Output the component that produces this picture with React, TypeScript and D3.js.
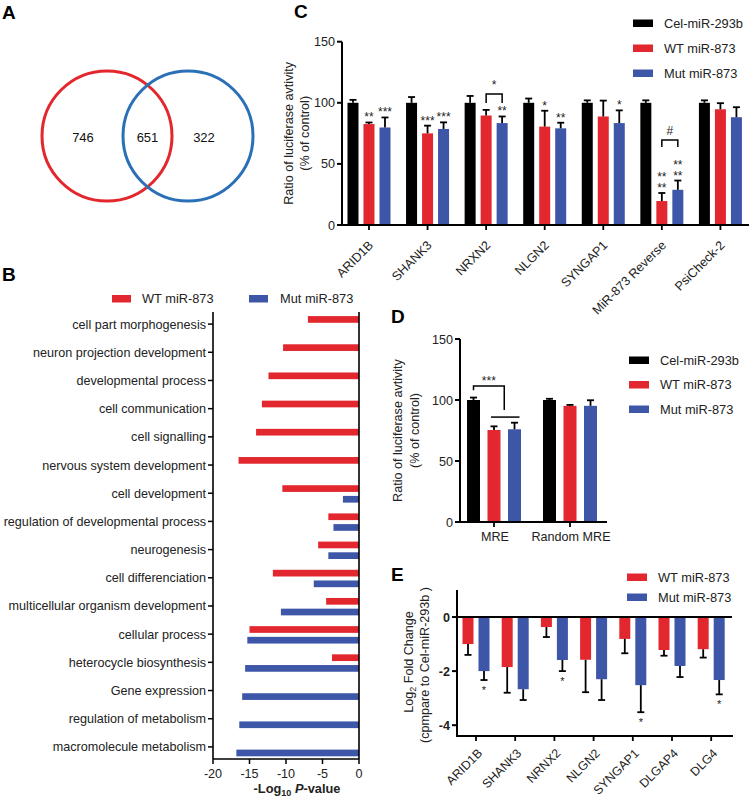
import React from "react";
import * as d3 from "d3";

const FONT = "'Liberation Sans', Arial, Helvetica, sans-serif";
const RED = "#e2282e";
const BLUE = "#3e56a7";
const BLACK = "#000000";
const VENN_BLUE = "#2a70b6";

// ---------- Panel A: Venn ----------
const vennCounts = [746, 651, 322]; // WT only, shared, Mut only

// ---------- Panel B: GO terms ----------
const goTerms = [
  "cell part morphogenesis",
  "neuron projection development",
  "developmental process",
  "cell communication",
  "cell signalling",
  "nervous system development",
  "cell development",
  "regulation of developmental process",
  "neurogenesis",
  "cell differenciation",
  "multicellular organism development",
  "cellular process",
  "heterocycle biosynthesis",
  "Gene expression",
  "regulation of metabolism",
  "macromolecule metabolism",
];
const goWT = [-7.0, -10.4, -12.4, -13.3, -14.1, -16.5, -10.5, -4.2, -5.6, -11.8, -4.5, -15.0, -3.7, null, null, null];
const goMut = [null, null, null, null, null, null, -2.2, -3.5, -4.2, -6.2, -10.7, -15.3, -15.6, -16.0, -16.4, -16.8];
const goTicks = [-20, -15, -10, -5, 0];

// ---------- Panel C: luciferase per gene ----------
const seriesNames = ["Cel-miR-293b", "WT miR-873", "Mut miR-873"];
const cGenes = ["ARID1B", "SHANK3", "NRXN2", "NLGN2", "SYNGAP1", "MiR-873 Reverse", "PsiCheck-2"];
const cCel = [100, 100, 100, 100, 100, 100, 100];
const cCelErr = [2.4, 4.7, 5.6, 3.5, 2, 2, 2];
const cWT = [82.6, 75, 89.6, 80.5, 88.8, 19.6, 94.7];
const cWTErr = [1.3, 6.3, 4.6, 13, 13, 6.6, 5];
const cMut = [79.8, 78.6, 83.4, 79.1, 83.4, 28.8, 88.2];
const cMutErr = [8.2, 5.4, 5.4, 4.6, 10.4, 7.6, 8.2];
const cWTStars = ["**", "***", "", "*", "", "**|**", ""];
const cMutStars = ["***", "***", "**", "**", "*", "**|**", ""];
const cBracketGenes = ["NRXN2", "MiR-873 Reverse"];
const cBracketTop = [107.2, 69.6];
const cBracketLeg = [99.8, 63.8];
const cBracketLabel = ["*", "#"];
const cTicks = [0, 50, 100, 150];

// ---------- Panel D: MRE ----------
const dGroups = ["MRE", "Random MRE"];
const dCel = [100, 100];
const dCelErr = [2, 1];
const dWT = [75.4, 95.2];
const dWTErr = [3, 0.8];
const dMut = [76, 95.2];
const dMutErr = [5.4, 4.6];
const dTicks = [0, 50, 100, 150];

// ---------- Panel E: qPCR ----------
const eGenes = ["ARID1B", "SHANK3", "NRNX2", "NLGN2", "SYNGAP1", "DLGAP4", "DLG4"];
const eWT = [-1.0, -1.85, -0.37, -1.58, -0.81, -1.22, -1.19];
const eWTErr = [0.4, 0.95, 0.37, 1.2, 0.53, 0.21, 0.31];
const eMut = [-2.0, -2.67, -1.59, -2.3, -2.52, -1.81, -2.33];
const eMutErr = [0.33, 0.4, 0.41, 0.77, 1.0, 0.41, 0.53];
const eMutStars = ["*", "", "*", "", "*", "", "*"];
const eTicks = [0, -2, -4];

const colors = [BLACK, RED, BLUE];

function PanelLetter({ x, y, t }: { x: number; y: number; t: string }) {
  return (
    <text x={x} y={y} fontSize={19} fontWeight="bold" fontFamily={FONT}>
      {t}
    </text>
  );
}

function Legend({ x, y, gap, names, cols }: { x: number; y: number; gap: number; names: string[]; cols: string[] }) {
  return (
    <g>
      {names.map((n, i) => (
        <g key={n}>
          <rect x={x} y={y + i * gap - 3.5} width={20} height={7.5} fill={cols[i]} />
          <text x={x + 31} y={y + i * gap + 4.5} fontSize={12.8} fontFamily={FONT} fill="#222">
            {n}
          </text>
        </g>
      ))}
    </g>
  );
}

function PanelA() {
  const cx = d3.scaleLinear().domain([0, 1]).range([107, 188]);
  const cy = 136;
  const r = 65;
  const textX = [cx(0) - 24, (cx(0) + cx(1)) / 2, cx(1) + 16];
  return (
    <g>
      <PanelLetter x={2} y={19} t="A" />
      <circle cx={cx(0)} cy={cy} r={r} fill="none" stroke={RED} strokeWidth={3} />
      <circle cx={cx(1)} cy={cy} r={r} fill="none" stroke={VENN_BLUE} strokeWidth={3} />
      {vennCounts.map((v, i) => (
        <text key={i} x={textX[i]} y={cy + 6} fontSize={13} textAnchor="middle" fontFamily={FONT} fill="#111">
          {v}
        </text>
      ))}
    </g>
  );
}

function PanelB() {
  const x = d3.scaleLinear().domain([-20, 0]).range([213, 359]);
  const y = d3.scaleBand().domain(goTerms).range([310, 761]);
  const inner = d3.scaleBand().domain(["WT", "Mut"]).range([-8, 9.4]).paddingInner(0.374);
  const top = 312;
  const bottom = 759;
  return (
    <g fontFamily={FONT}>
      <PanelLetter x={2} y={281} t="B" />
      <rect x={112} y={295} width={19} height={7.5} fill={RED} />
      <text x={142} y={303} fontSize={12.8} fill="#222">WT miR-873</text>
      <rect x={249} y={295} width={19} height={7.5} fill={BLUE} />
      <text x={280} y={303} fontSize={12.8} fill="#222">Mut miR-873</text>
      {goTerms.map((t, i) => {
        const cy = (y(t) as number) + y.bandwidth() / 2;
        const w = goWT[i];
        const m = goMut[i];
        return (
          <g key={t}>
            {w !== null && (
              <rect x={x(w)} y={cy + (inner("WT") as number)} width={x(0) - x(w)} height={inner.bandwidth()} fill={RED} />
            )}
            {m !== null && (
              <rect x={x(m)} y={cy + (inner("Mut") as number)} width={x(0) - x(m)} height={inner.bandwidth()} fill={BLUE} />
            )}
            <line x1={x(-20) - 5} x2={x(-20)} y1={cy} y2={cy} stroke="#000" strokeWidth={1.5} />
            <text x={x(-20) - 7} y={cy + 4.5} fontSize={12.6} textAnchor="end" fill="#222">
              {t}
            </text>
          </g>
        );
      })}
      <line x1={x(-20)} x2={x(-20)} y1={top} y2={bottom} stroke="#000" strokeWidth={1.6} />
      <line x1={x(0)} x2={x(0)} y1={top} y2={bottom} stroke="#000" strokeWidth={1.6} />
      <line x1={x(-20)} x2={x(0)} y1={bottom} y2={bottom} stroke="#000" strokeWidth={1.6} />
      {goTicks.map((t) => (
        <g key={t}>
          <line x1={x(t)} x2={x(t)} y1={bottom} y2={bottom + 5} stroke="#000" strokeWidth={1.5} />
          <text x={x(t)} y={778} fontSize={12.6} textAnchor="middle" fill="#222">
            {t}
          </text>
        </g>
      ))}
      <text x={297} y={793} fontSize={12.8} fontWeight="bold" textAnchor="middle" fill="#222">
        -Log<tspan fontSize={9} dy={3}>10</tspan>
        <tspan dy={-3}> </tspan>
        <tspan fontStyle="italic">P</tspan>-value
      </text>
    </g>
  );
}

function ErrUp({ x, y1, y2 }: { x: number; y1: number; y2: number }) {
  return (
    <g stroke="#000" strokeWidth={1.8}>
      <line x1={x} x2={x} y1={y1} y2={y2} />
      <line x1={x - 3.5} x2={x + 3.5} y1={y2} y2={y2} />
    </g>
  );
}

function Stars({ x, y, s, size = 12 }: { x: number; y: number; s: string; size?: number }) {
  if (!s) return null;
  const rows = s.split("|");
  const lead = 11;
  return (
    <text x={x} y={y - (rows.length - 1) * lead} fontSize={size} textAnchor="middle" fontFamily={FONT} fill="#222">
      {rows.map((r, i) => (
        <tspan key={i} x={x} dy={i === 0 ? 0 : lead}>
          {r}
        </tspan>
      ))}
    </text>
  );
}

function PanelC() {
  const x0 = d3.scaleBand().domain(cGenes).range([339.7, 749.7]);
  const x1 = d3.scaleBand().domain(seriesNames).range([-21.5, 21.5]).paddingInner(0.3125);
  const y = d3.scaleLinear().domain([0, 150]).range([225, 41.7]);
  const axX = 342;
  const vals = [cCel, cWT, cMut];
  const errs = [cCelErr, cWTErr, cMutErr];
  const stars = [null, cWTStars, cMutStars];
  const center = (g: string) => (x0(g) as number) + x0.step() / 2;
  const bx = (g: string, s: string) => center(g) + (x1(s) as number);
  return (
    <g fontFamily={FONT}>
      <PanelLetter x={294} y={18} t="C" />
      {cGenes.map((g, gi) => (
        <g key={g}>
          {seriesNames.map((s, si) => {
            const v = vals[si][gi];
            const e = errs[si][gi];
            const xc = bx(g, s) + x1.bandwidth() / 2;
            const st = stars[si];
            return (
              <g key={s}>
                <rect x={bx(g, s)} y={y(v)} width={x1.bandwidth()} height={y(0) - y(v)} fill={colors[si]} />
                <ErrUp x={xc} y1={y(v)} y2={y(v + e)} />
                {st && <Stars x={xc} y={y(v + e) - 1} s={st[gi]} />}
              </g>
            );
          })}
          <line x1={center(g)} x2={center(g)} y1={y(0)} y2={y(0) + 5} stroke="#000" strokeWidth={1.8} />
          <text
            transform={`translate(${center(g) + 5},${y(0) + 21}) rotate(-45)`}
            textAnchor="end"
            fontSize={12.6}
            fill="#222"
          >
            {g}
          </text>
        </g>
      ))}
      {cBracketGenes.map((g, i) => {
        const xa = bx(g, seriesNames[1]) + x1.bandwidth() / 2;
        const xb = bx(g, seriesNames[2]) + x1.bandwidth() / 2;
        return (
          <g key={g}>
            <path
              d={`M${xa},${y(cBracketLeg[i])}V${y(cBracketTop[i])}H${xb}V${y(cBracketLeg[i])}`}
              fill="none"
              stroke="#000"
              strokeWidth={1.5}
            />
            <text x={(xa + xb) / 2} y={y(cBracketTop[i]) - 5} fontSize={12} textAnchor="middle" fill="#222">
              {cBracketLabel[i]}
            </text>
          </g>
        );
      })}
      <line x1={axX} x2={axX} y1={y(150)} y2={y(0)} stroke="#000" strokeWidth={2} />
      <line x1={axX - 1} x2={749} y1={y(0)} y2={y(0)} stroke="#000" strokeWidth={2} />
      {cTicks.map((t) => (
        <g key={t}>
          <line x1={axX - 5} x2={axX} y1={y(t)} y2={y(t)} stroke="#000" strokeWidth={2} />
          <text x={axX - 7} y={y(t) + 4.5} fontSize={12.6} textAnchor="end" fill="#222">
            {t}
          </text>
        </g>
      ))}
      <text transform={`translate(293,${(y(0) + y(150)) / 2}) rotate(-90)`} textAnchor="middle" fontSize={12.6} fill="#222">
        Ratio of luciferase avtivity
      </text>
      <text transform={`translate(309,${(y(0) + y(150)) / 2}) rotate(-90)`} textAnchor="middle" fontSize={12.6} fill="#222">
        (% of control)
      </text>
      <Legend x={633} y={23} gap={25} names={seriesNames} cols={colors} />
    </g>
  );
}

function PanelD() {
  const x0 = d3.scaleBand().domain(dGroups).range([456, 608]);
  const x1 = d3.scaleBand().domain(seriesNames).range([-27, 27]).paddingInner(0.366);
  const y = d3.scaleLinear().domain([0, 150]).range([522, 339]);
  const axX = 460;
  const vals = [dCel, dWT, dMut];
  const errs = [dCelErr, dWTErr, dMutErr];
  const center = (g: string) => (x0(g) as number) + x0.step() / 2;
  const bx = (g: string, s: string) => center(g) + (x1(s) as number);
  const g0 = dGroups[0];
  const cBlack = bx(g0, seriesNames[0]) + x1.bandwidth() / 2;
  const cRed = bx(g0, seriesNames[1]) + x1.bandwidth() / 2;
  const cBlue = bx(g0, seriesNames[2]) + x1.bandwidth() / 2;
  const mid = (cRed + cBlue) / 2;
  return (
    <g fontFamily={FONT}>
      <PanelLetter x={391} y={323} t="D" />
      {dGroups.map((g, gi) => (
        <g key={g}>
          {seriesNames.map((s, si) => {
            const v = vals[si][gi];
            const e = errs[si][gi];
            const xc = bx(g, s) + x1.bandwidth() / 2;
            return (
              <g key={s}>
                <rect x={bx(g, s)} y={y(v)} width={x1.bandwidth()} height={y(0) - y(v)} fill={colors[si]} />
                <ErrUp x={xc} y1={y(v)} y2={y(v + e)} />
              </g>
            );
          })}
          <line x1={center(g)} x2={center(g)} y1={y(0)} y2={y(0) + 5} stroke="#000" strokeWidth={1.8} />
          <text x={center(g) + 1} y={541} fontSize={12.6} textAnchor="middle" fill="#222">
            {g}
          </text>
        </g>
      ))}
      <path d={`M${cBlack},${y(108)}V${y(111.5)}H${mid}V${y(91.8)}`} fill="none" stroke="#000" strokeWidth={1.5} />
      <line x1={cRed - 3} x2={cBlue + 5} y1={y(86)} y2={y(86)} stroke="#000" strokeWidth={1.5} />
      <text x={(cBlack + mid) / 2} y={y(111.5) - 1} fontSize={12} textAnchor="middle" fill="#222">
        ***
      </text>
      <line x1={axX} x2={axX} y1={y(150)} y2={y(0)} stroke="#000" strokeWidth={2} />
      <line x1={axX - 1} x2={607} y1={y(0)} y2={y(0)} stroke="#000" strokeWidth={2} />
      {dTicks.map((t) => (
        <g key={t}>
          <line x1={axX - 5} x2={axX} y1={y(t)} y2={y(t)} stroke="#000" strokeWidth={2} />
          <text x={axX - 7} y={y(t) + 4.5} fontSize={12.6} textAnchor="end" fill="#222">
            {t}
          </text>
        </g>
      ))}
      <text transform={`translate(402,${(y(0) + y(150)) / 2}) rotate(-90)`} textAnchor="middle" fontSize={12.6} fill="#222">
        Ratio of luciferase avtivity
      </text>
      <text transform={`translate(419,${(y(0) + y(150)) / 2}) rotate(-90)`} textAnchor="middle" fontSize={12.6} fill="#222">
        (% of control)
      </text>
      <Legend x={629} y={360} gap={24.5} names={seriesNames} cols={colors} />
    </g>
  );
}

function PanelE() {
  const x0 = d3.scaleBand().domain(eGenes).range([456.4, 730.8]);
  const x1 = d3.scaleBand().domain(["WT", "Mut"]).range([-13.5, 13.5]).paddingInner(0.3125);
  const y = d3.scaleLinear().domain([-4.4, 1]).range([736, 590]);
  const axX = 457;
  const center = (g: string) => (x0(g) as number) + x0.step() / 2;
  const series = [
    { key: "WT", vals: eWT, errs: eWTErr, col: RED },
    { key: "Mut", vals: eMut, errs: eMutErr, col: BLUE },
  ];
  return (
    <g fontFamily={FONT}>
      <PanelLetter x={391} y={581} t="E" />
      {eGenes.map((g, gi) => (
        <g key={g}>
          {series.map((s) => {
            const v = s.vals[gi];
            const e = s.errs[gi];
            const bxv = center(g) + (x1(s.key) as number);
            const xc = bxv + x1.bandwidth() / 2;
            return (
              <g key={s.key}>
                <rect x={bxv} y={y(0)} width={x1.bandwidth()} height={y(v) - y(0)} fill={s.col} />
                <g stroke="#000" strokeWidth={1.8}>
                  <line x1={xc} x2={xc} y1={y(v)} y2={y(v - e)} />
                  <line x1={xc - 3.5} x2={xc + 3.5} y1={y(v - e)} y2={y(v - e)} />
                </g>
                {s.key === "Mut" && <Stars x={xc} y={y(v - e) + 14} s={eMutStars[gi]} size={11} />}
              </g>
            );
          })}
          <line x1={center(g)} x2={center(g)} y1={736} y2={741} stroke="#000" strokeWidth={1.8} />
          <text
            transform={`translate(${center(g) + 7},${736 + 18}) rotate(-45)`}
            textAnchor="end"
            fontSize={12.4}
            fill="#222"
          >
            {g}
          </text>
        </g>
      ))}
      <line x1={axX} x2={732} y1={y(0)} y2={y(0)} stroke="#000" strokeWidth={2} />
      <line x1={axX} x2={axX} y1={y(1)} y2={736} stroke="#000" strokeWidth={2} />
      <line x1={axX - 1} x2={733} y1={736} y2={736} stroke="#000" strokeWidth={2} />
      {eTicks.map((t) => (
        <g key={t}>
          <line x1={axX - 5} x2={axX} y1={y(t)} y2={y(t)} stroke="#000" strokeWidth={2} />
          <text x={axX - 7} y={y(t) + 4.5} fontSize={12.6} fontWeight="bold" textAnchor="end" fill="#222">
            {t}
          </text>
        </g>
      ))}
      <text transform={`translate(413,${662}) rotate(-90)`} textAnchor="middle" fontSize={12.6} fill="#222">
        Log<tspan fontSize={9} dy={3}>2</tspan>
        <tspan dy={-3}> Fold Change</tspan>
      </text>
      <text transform={`translate(429,${665}) rotate(-90)`} textAnchor="middle" fontSize={12.6} fill="#222">
        (cpmpare to Cel-miR-293b )
      </text>
      <Legend x={627} y={577} gap={20} names={["WT miR-873", "Mut miR-873"]} cols={[RED, BLUE]} />
    </g>
  );
}

export default function App() {
  return (
    <svg
      width={749}
      height={798}
      viewBox="0 0 749 798"
      style={{ position: "absolute", left: 0, top: 0, background: "#fff" }}
    >
      <rect width={749} height={798} fill="#fff" />
      <PanelA />
      <PanelB />
      <PanelC />
      <PanelD />
      <PanelE />
    </svg>
  );
}
